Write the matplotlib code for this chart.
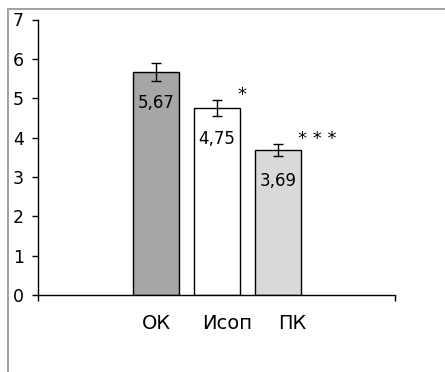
"""Bar chart of group means (ОК, Исоп, ПК) with error bars and significance marks."""

import matplotlib
matplotlib.use("Agg")
import matplotlib.pyplot as plt
import matplotlib.transforms as mtransforms
from matplotlib.patches import Rectangle

categories = ["ОК", "Исоп", "ПК"]
means = [5.67, 4.75, 3.69]
errors = [0.22, 0.21, 0.15]
significance = ["", "*", "* * *"]
bar_colors = ["#a6a6a6", "#ffffff", "#d9d9d9"]

plt.rcParams["font.family"] = ["DejaVu Sans"]

fig = plt.figure(figsize=(4.45, 3.72), dpi=100)
ax = fig.add_axes([38 / 445, 77 / 372, 357 / 445, 275.5 / 372])

# outer gray frame of the chart area
fig.patches.append(Rectangle((8 / 445, -0.1), 1.2, 1 - 9 / 372 + 0.1,
                             transform=fig.transFigure, fill=False,
                             edgecolor="#a0a0a0", linewidth=1.4))

x = list(range(len(categories)))
width = 46 / 61
ax.bar(x, means, width=width, color=bar_colors, edgecolor="black",
       linewidth=1.0, zorder=2)
ax.errorbar(x, means, yerr=errors, fmt="none", ecolor="black",
            elinewidth=1.0, capsize=3.6, capthick=1.0, zorder=3)

for xi, m, e, s in zip(x, means, errors, significance):
    ax.annotate(f"{m:.2f}".replace(".", ","), (xi, m), xytext=(0, -22.5),
                textcoords="offset points", ha="center", va="center",
                fontsize=12)
    if s:
        ax.annotate(s, (xi + width / 2, m + e), xytext=(-2, 0),
                    textcoords="offset points", ha="left", va="baseline",
                    fontsize=13)

ax.set_ylim(0, 7)
ax.set_yticks(range(8))
ax.set_xlim(-118 / 61, 239 / 61)
ax.set_xticks(x)
ax.set_xticklabels(categories, fontsize=14)
ax.set_xticks([-118 / 61, 239 / 61], minor=True)
ax.tick_params(axis="x", which="major", length=0, pad=14)
ax.tick_params(axis="x", which="minor", length=4, width=1.0, direction="out")
ax.tick_params(axis="y", length=4.3, width=1.0, direction="out", pad=6,
               labelsize=12.5)

# nudge category labels to the right
label_shift_px = [0, 10, 14]
for lab, dx in zip(ax.get_xticklabels(), label_shift_px):
    lab.set_transform(lab.get_transform() +
                      mtransforms.ScaledTranslation(dx / 100, 0, fig.dpi_scale_trans))

for side in ("top", "right"):
    ax.spines[side].set_visible(False)
for side in ("left", "bottom"):
    ax.spines[side].set_linewidth(1.0)

fig.savefig("out.png", dpi=100)
